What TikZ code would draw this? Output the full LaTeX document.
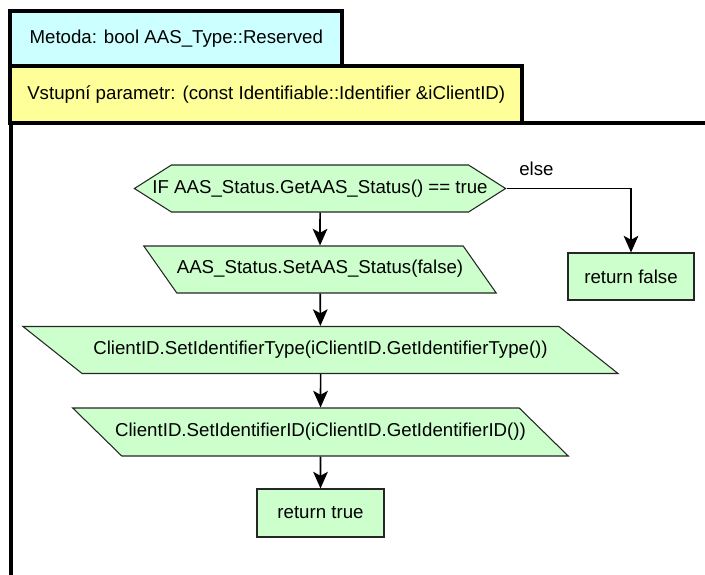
\documentclass[tikz,border=0pt]{standalone}
\usepackage{fontspec}
\setmainfont{Liberation Sans}
\usepackage{tikz}
\usetikzlibrary{shapes.geometric}
\usetikzlibrary{shapes.symbols}
\usetikzlibrary{arrows.meta}
\definecolor{headcyan}{RGB}{204,255,255}
\definecolor{headyellow}{RGB}{255,255,153}
\definecolor{stepgreen}{RGB}{204,255,204}

\begin{document}
\begin{tikzpicture}[x=0.75pt, y=-0.75pt,
    txt/.style={font=\fontsize{14pt}{16pt}\selectfont, inner sep=0pt},
    head/.style={txt, draw, line width=3pt},
    stepbox/.style={txt, draw=black!85, line width=0.8pt, fill=stepgreen},
    slanted/.style={stepbox, trapezium, trapezium stretches body, text height=10pt, text depth=3.5pt, inner xsep=0pt, inner ysep=10.875pt},
    flow/.style={line width=1.2pt, -{Stealth[length=12.5pt, width=11pt, inset=3pt]}}]
\useasboundingbox (0,0) rectangle (705,574);

% frame of the method body
\draw[line width=3pt] (705,123) -- (10.5,123) -- (10.5,580);

% header
\node[head, fill=headcyan, minimum width=249pt, minimum height=41.25pt]     (method) at (176.25, 38.5) {Metoda: bool AAS\_Type::Reserved};
\node[head, fill=headyellow, minimum width=384pt, minimum height=42.75pt]   (param)  at (266.25, 94.5) {Vstupní parametr: (const Identifiable::Identifier \&iClientID)};

% steps
\node[stepbox, signal, signal to=west and east, signal pointer angle=64.8, inner xsep=-14.25pt,
      minimum height=35.25pt] (cond) at (320, 188.5) {IF AAS\_Status.GetAAS\_Status() == true};
\node[slanted, trapezium left angle=125.1, trapezium right angle=54.9, minimum width=259.5pt]  (setStatus) at (320, 269.5)   {AAS\_Status.SetAAS\_Status(false)};
\node[slanted, trapezium left angle=141.5, trapezium right angle=38.5, minimum width=446.25pt] (setType)   at (320.5, 350)   {ClientID.SetIdentifierType(iClientID.GetIdentifierType())};
\node[slanted, trapezium left angle=135.6, trapezium right angle=44.4, minimum width=371.25pt, inner xsep=-5pt, inner ysep=11.25pt] (setID) at (320.5, 432) {ClientID.SetIdentifierID(iClientID.GetIdentifierID())};
\node[stepbox, minimum width=95.25pt, minimum height=36pt]   (retTrue)  at (320.5, 513) {return true};
\node[stepbox, minimum width=94.5pt, minimum height=35.25pt] (retFalse) at (631, 276.5) {return false};

% connectors
\draw[flow] (cond) -- (setStatus);
\draw[flow] (setStatus) -- (setType);
\draw[flow] (setType) -- (setID);
\draw[flow] (setID) -- (retTrue);
\draw[flow] (cond.east) -| node[txt, pos=0.12, above=9pt] {else} (retFalse.north);
\end{tikzpicture}
\end{document}
